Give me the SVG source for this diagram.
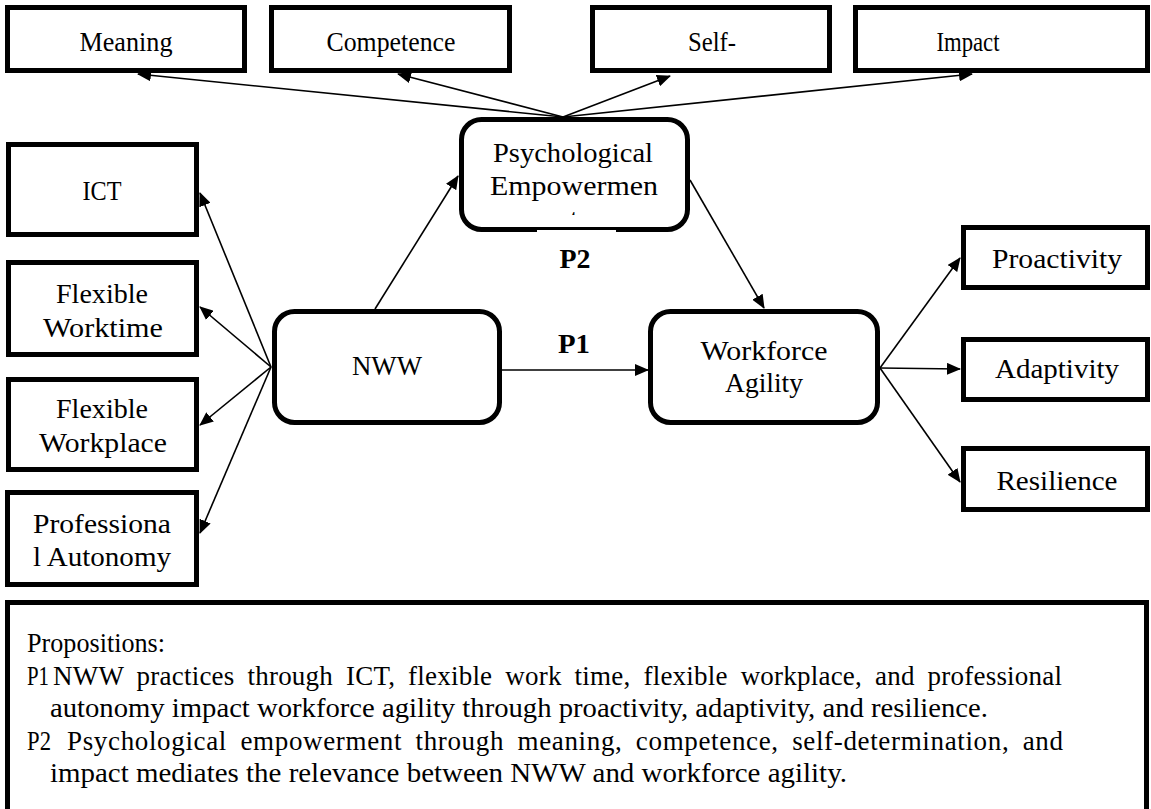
<svg xmlns="http://www.w3.org/2000/svg" width="1151" height="809" viewBox="0 0 1151 809">
<style>
.box{fill:#fff;stroke:#000;stroke-width:5}
.lbl{font-family:'Liberation Serif','DejaVu Serif',serif;font-size:27px;fill:#000;text-anchor:middle}
.bold{font-weight:bold}
.prop{font-family:'Liberation Serif','DejaVu Serif',serif;font-size:27px;fill:#000}
.conn{stroke:#000;stroke-width:1.6;fill:none;marker-end:url(#ah)}
</style>
<defs>
<marker id="ah" markerUnits="userSpaceOnUse" markerWidth="14" markerHeight="12" refX="13" refY="6" orient="auto">
<path d="M0,0 L14,6 L0,12 z" fill="#000"/>
</marker>
<clipPath id="tclip"><rect x="560" y="205" width="30" height="10"/></clipPath>
</defs>
<rect width="1151" height="809" fill="#fff"/>

<g id="connectors">
<line class="conn" x1="563" y1="117" x2="138" y2="74"/>
<line class="conn" x1="563" y1="117" x2="398" y2="74"/>
<line class="conn" x1="563" y1="117" x2="670" y2="76"/>
<line class="conn" x1="563" y1="117" x2="972" y2="74"/>
<line class="conn" x1="271" y1="367" x2="200" y2="193"/>
<line class="conn" x1="271" y1="367" x2="200" y2="307"/>
<line class="conn" x1="271" y1="367" x2="200" y2="425"/>
<line class="conn" x1="271" y1="367" x2="200" y2="533"/>
<line class="conn" x1="375" y1="309" x2="458" y2="176"/>
<line class="conn" x1="502" y1="370" x2="648" y2="370"/>
<line class="conn" x1="690" y1="180" x2="764" y2="308"/>
<line class="conn" x1="880" y1="368" x2="960" y2="258"/>
<line class="conn" x1="880" y1="368" x2="960" y2="369"/>
<line class="conn" x1="880" y1="368" x2="960" y2="482"/>
</g>

<g id="meaning"><rect class="box" x="7.5" y="7.5" width="237" height="63"/><text class="lbl" x="126" y="51" textLength="93" lengthAdjust="spacingAndGlyphs">Meaning</text></g>
<g id="competence"><rect class="box" x="271.5" y="7.5" width="238" height="63"/><text class="lbl" x="391" y="51" textLength="129" lengthAdjust="spacingAndGlyphs">Competence</text></g>
<g id="self"><rect class="box" x="592.5" y="7.5" width="237" height="63"/><text class="lbl" x="712" y="51" textLength="48" lengthAdjust="spacingAndGlyphs">Self-</text></g>
<g id="impact"><rect class="box" x="855.5" y="7.5" width="292" height="63"/><text class="lbl" x="968" y="51" textLength="63" lengthAdjust="spacingAndGlyphs">Impact</text></g>

<g id="psych">
<rect class="box" x="461.5" y="119.5" width="226" height="110" rx="20"/>
<rect x="537" y="230" width="79" height="3" fill="#fff"/>
<text class="lbl" x="573" y="162" textLength="160" lengthAdjust="spacingAndGlyphs">Psychological</text>
<text class="lbl" x="574" y="195" textLength="168" lengthAdjust="spacingAndGlyphs">Empowermen</text>
<text class="lbl" x="574" y="228" clip-path="url(#tclip)">t</text>
</g>
<g id="p2"><text class="lbl bold" x="575" y="268" textLength="31" lengthAdjust="spacingAndGlyphs">P2</text></g>
<g id="p1"><text class="lbl bold" x="574" y="353" textLength="32" lengthAdjust="spacingAndGlyphs">P1</text></g>

<g id="ict"><rect class="box" x="8.5" y="144.5" width="188" height="90"/><text class="lbl" x="102" y="200" textLength="39" lengthAdjust="spacingAndGlyphs">ICT</text></g>
<g id="worktime"><rect class="box" x="8.5" y="262.5" width="188" height="92"/><text class="lbl" x="102" y="303" textLength="92" lengthAdjust="spacingAndGlyphs">Flexible</text><text class="lbl" x="103" y="337" textLength="120" lengthAdjust="spacingAndGlyphs">Worktime</text></g>
<g id="workplace"><rect class="box" x="8.5" y="379.5" width="188" height="90"/><text class="lbl" x="102" y="418" textLength="92" lengthAdjust="spacingAndGlyphs">Flexible</text><text class="lbl" x="103" y="452" textLength="128" lengthAdjust="spacingAndGlyphs">Workplace</text></g>
<g id="professional"><rect class="box" x="7.5" y="492.5" width="189" height="92"/><text class="lbl" x="102" y="533" textLength="138" lengthAdjust="spacingAndGlyphs">Professiona</text><text class="lbl" x="102" y="566" textLength="138" lengthAdjust="spacingAndGlyphs">l Autonomy</text></g>

<g id="nww"><rect class="box" x="274.5" y="311.5" width="225" height="111" rx="20"/><text class="lbl" x="387" y="375" textLength="70" lengthAdjust="spacingAndGlyphs">NWW</text></g>
<g id="workforce"><rect class="box" x="650.5" y="311.5" width="227" height="111" rx="20"/><text class="lbl" x="764" y="360" textLength="127" lengthAdjust="spacingAndGlyphs">Workforce</text><text class="lbl" x="764" y="392" textLength="78" lengthAdjust="spacingAndGlyphs">Agility</text></g>

<g id="proactivity"><rect class="box" x="963.5" y="227.5" width="184" height="60"/><text class="lbl" x="1057" y="268" textLength="130" lengthAdjust="spacingAndGlyphs">Proactivity</text></g>
<g id="adaptivity"><rect class="box" x="963.5" y="339.5" width="184" height="60"/><text class="lbl" x="1057" y="378" textLength="124" lengthAdjust="spacingAndGlyphs">Adaptivity</text></g>
<g id="resilience"><rect class="box" x="963.5" y="448.5" width="184" height="61"/><text class="lbl" x="1057" y="490" textLength="121" lengthAdjust="spacingAndGlyphs">Resilience</text></g>

<g id="propositions">
<rect class="box" x="7.5" y="602.5" width="1139" height="220"/>
<text class="prop" x="27" y="652" textLength="138" lengthAdjust="spacingAndGlyphs">Propositions:</text>
<text class="prop" x="27" y="685" textLength="22" lengthAdjust="spacingAndGlyphs">P1</text>
<text class="prop" x="53" y="685" textLength="1009" lengthAdjust="spacing" word-spacing="6">NWW practices through ICT, flexible work time, flexible workplace, and professional</text>
<text class="prop" x="50" y="717" textLength="938" lengthAdjust="spacingAndGlyphs">autonomy impact workforce agility through proactivity, adaptivity, and resilience.</text>
<text class="prop" x="27" y="750" textLength="24" lengthAdjust="spacingAndGlyphs">P2</text>
<text class="prop" x="67" y="750" textLength="996" lengthAdjust="spacing" word-spacing="6">Psychological empowerment through meaning, competence, self-determination, and</text>
<text class="prop" x="50" y="782" textLength="797" lengthAdjust="spacingAndGlyphs">impact mediates the relevance between NWW and workforce agility.</text>
</g>
</svg>
